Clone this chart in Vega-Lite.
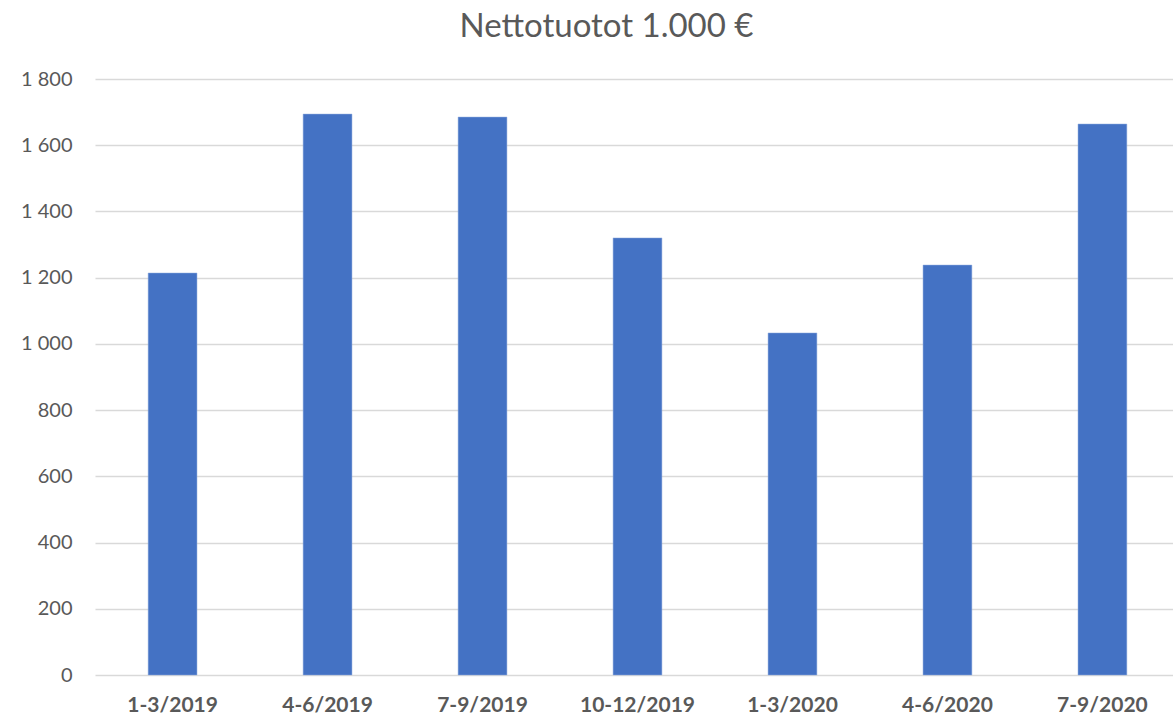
{
  "$schema": "https://vega.github.io/schema/vega-lite/v6.json",
  "autosize": "none",
  "width": 1085,
  "height": 596,
  "padding": {"left": 95, "top": 79, "right": 0, "bottom": 45},
  "background": "white",
  "config": {
    "view": {"stroke": null},
    "font": "Lato",
    "locale": {"number": {"decimal": ",", "thousands": " ", "grouping": [3], "currency": ["", " €"]}}
  },
  "title": {
    "text": "Nettotuotot 1.000 €",
    "fontSize": 33,
    "fontWeight": "normal",
    "color": "#595959",
    "font": "Lato",
    "anchor": "middle",
    "dx": -31,
    "offset": 25
  },
  "data": {
    "values": [
      {"kausi": "1-3/2019", "arvo": 1214},
      {"kausi": "4-6/2019", "arvo": 1694},
      {"kausi": "7-9/2019", "arvo": 1685},
      {"kausi": "10-12/2019", "arvo": 1320},
      {"kausi": "1-3/2020", "arvo": 1033},
      {"kausi": "4-6/2020", "arvo": 1238},
      {"kausi": "7-9/2020", "arvo": 1664}
    ]
  },
  "mark": {"type": "bar", "color": "#4472C4", "stroke": "#8FAADC", "strokeWidth": 0.5},
  "encoding": {
    "x": {
      "field": "kausi",
      "type": "nominal",
      "sort": null,
      "scale": {"paddingInner": 0.685, "paddingOuter": 0.343},
      "axis": {
        "title": null,
        "labelAngle": 0,
        "labelFontSize": 21,
        "labelFontWeight": "bold",
        "labelColor": "#595959",
        "labelPadding": 19,
        "ticks": false,
        "domain": false
      }
    },
    "y": {
      "field": "arvo",
      "type": "quantitative",
      "scale": {"domain": [0, 1800], "nice": false},
      "axis": {
        "title": null,
        "values": [0, 200, 400, 600, 800, 1000, 1200, 1400, 1600, 1800],
        "format": ",d",
        "labelFontSize": 20,
        "labelColor": "#595959",
        "labelPadding": 23,
        "ticks": false,
        "domain": false,
        "grid": true,
        "gridColor": "#D9D9D9",
        "gridWidth": 1.5
      }
    }
  }
}
